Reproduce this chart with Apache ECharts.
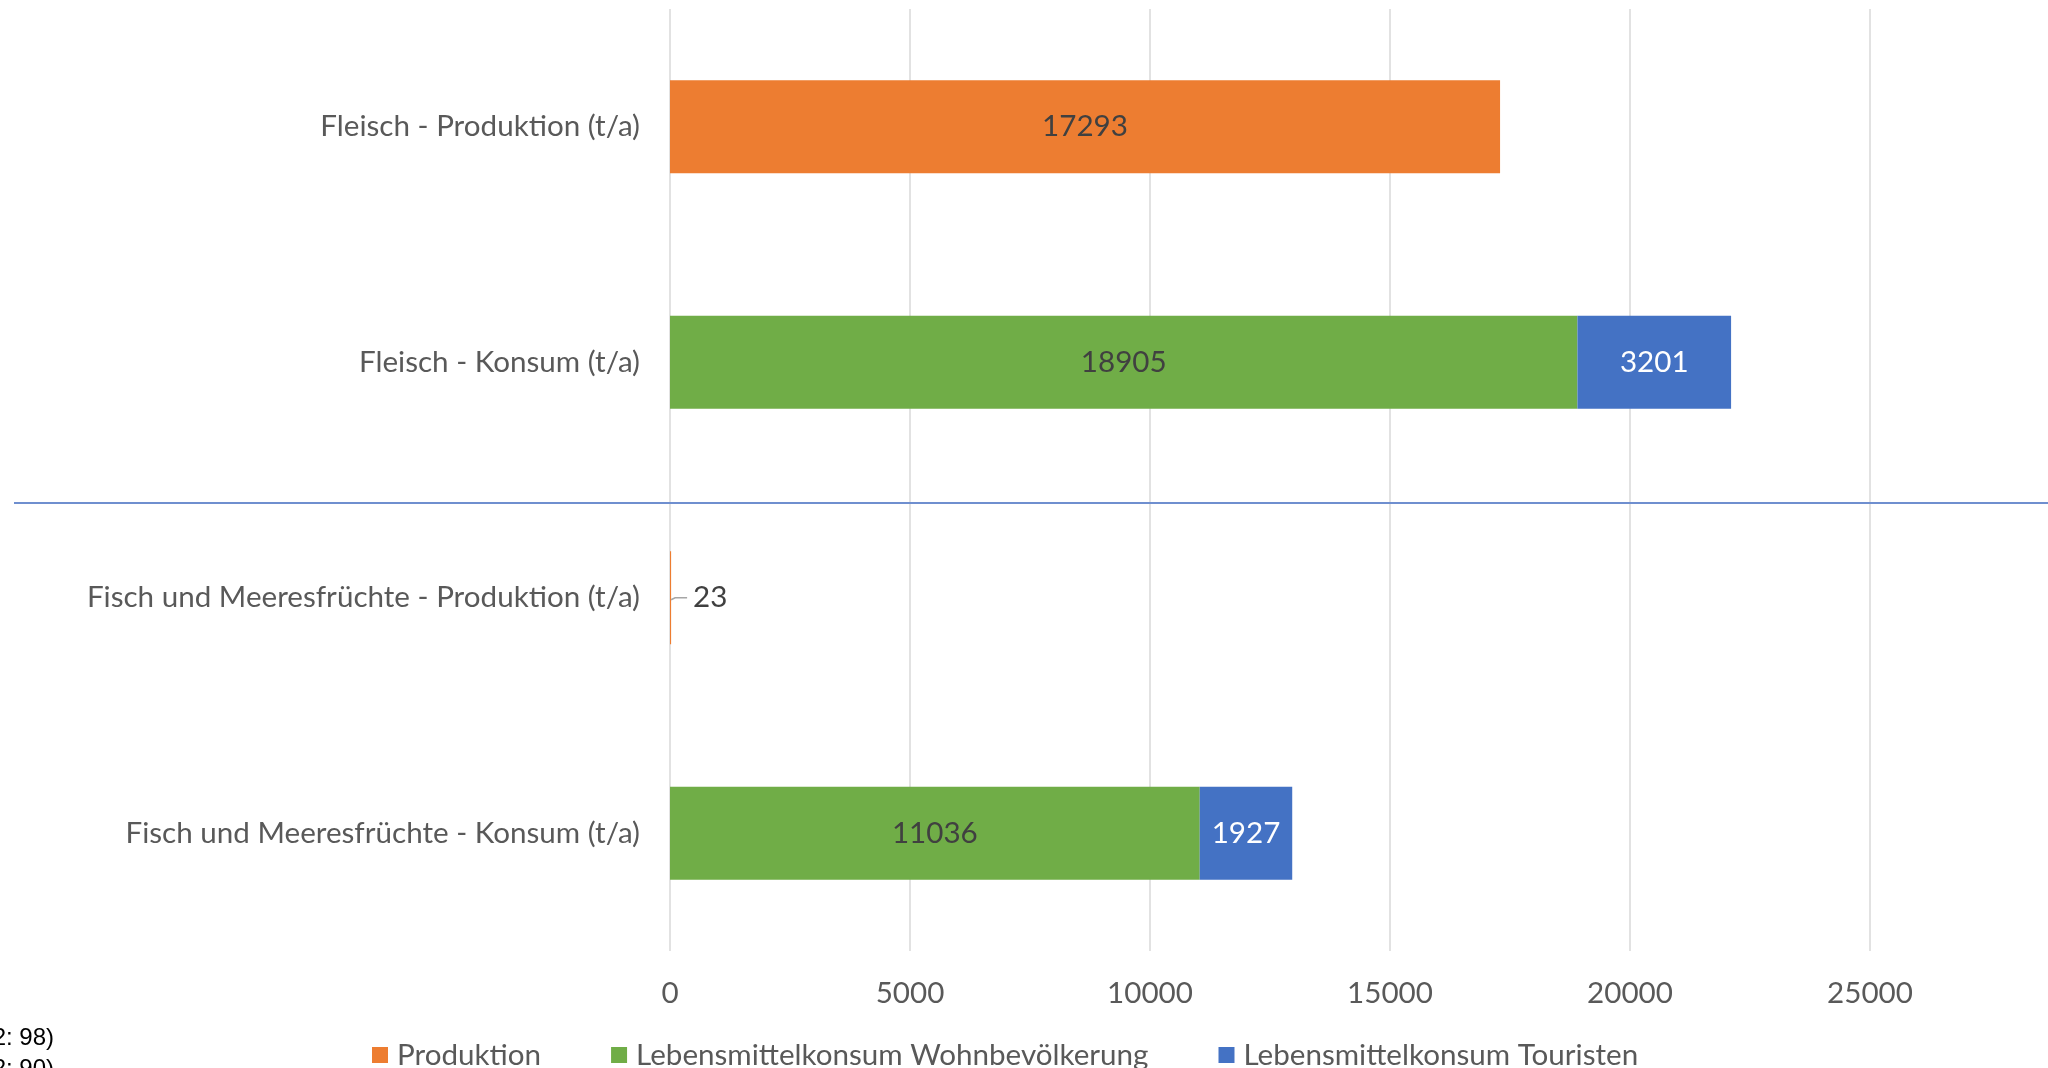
<!DOCTYPE html>
<html>
<head>
<meta charset="utf-8">
<script src="https://cdn.jsdelivr.net/npm/echarts@6/dist/echarts.min.js"></script>
<style>
html,body{margin:0;padding:0;background:#fff;}
#chart{width:2048px;height:1068px;}
</style>
</head>
<body>
<div id="chart"></div>
<script>
const categories = [
  'Fleisch - Produktion (t/a)',
  'Fleisch - Konsum (t/a)',
  'Fisch und Meeresfrüchte - Produktion (t/a)',
  'Fisch und Meeresfrüchte - Konsum (t/a)'
];
const seriesNames = ['Produktion', 'Lebensmittelkonsum Wohnbevölkerung', 'Lebensmittelkonsum Touristen'];
const produktion = [17293, null, 23, null];
const wohnbevoelkerung = [null, 18905, null, 11036];
const touristen = [null, 3201, null, 1927];
const xTicks = [0, 5000, 10000, 15000, 20000, 25000, 30000];

const FONT = 'Lato';
const FS = 29.6;
const chart = echarts.init(document.getElementById('chart'), null, {renderer: 'canvas'});

function labelCfg(color) {
  return {
    show: true,
    position: 'inside',
    color: color,
    fontFamily: FONT,
    fontSize: FS,
    formatter: p => (p.value == null ? '' : String(p.value))
  };
}

chart.setOption({
  animation: false,
  backgroundColor: '#fff',
  textStyle: {fontFamily: FONT},
  grid: {left: 670, top: 9, width: 1440, height: 942, containLabel: false, outerBoundsMode: 'none'},
  xAxis: {
    type: 'value',
    min: xTicks[0],
    max: xTicks[xTicks.length - 1],
    interval: 5000,
    axisLine: {show: false},
    axisTick: {show: false},
    splitLine: {show: true, lineStyle: {color: '#d9d9d9', width: 1.5}},
    axisLabel: {color: '#595959', fontFamily: FONT, fontSize: FS, margin: 27, formatter: v => String(v)}
  },
  yAxis: {
    type: 'category',
    inverse: true,
    data: categories,
    axisLine: {show: false},
    axisTick: {show: false},
    splitLine: {show: false},
    axisLabel: {color: '#595959', fontFamily: FONT, fontSize: FS, margin: 30}
  },
  legend: {
    left: 367,
    top: 1035,
    itemWidth: 16,
    itemHeight: 16,
    itemGap: 70,
    icon: 'rect',
    textStyle: {color: '#595959', fontFamily: FONT, fontSize: FS, padding: [0, 0, 0, 4]},
    data: seriesNames
  },
  series: [
    {
      name: seriesNames[0], type: 'bar', stack: 'total', barWidth: 93,
      itemStyle: {color: '#ED7D31'},
      data: produktion.map((v, i) => ({
        value: v,
        label: i === 2 ? {show: true, position: 'right', distance: 22, color: '#404040', fontFamily: FONT, fontSize: FS} : undefined
      })),
      label: labelCfg('#404040')
    },
    {
      name: seriesNames[1], type: 'bar', stack: 'total', barWidth: 93,
      itemStyle: {color: '#70AD47'},
      data: wohnbevoelkerung,
      label: labelCfg('#404040')
    },
    {
      name: seriesNames[2], type: 'bar', stack: 'total', barWidth: 93,
      itemStyle: {color: '#4472C4'},
      data: touristen,
      label: labelCfg('#ffffff')
    }
  ]
});

// leader line for the small value label, placed via the chart's own scales
const p = chart.convertToPixel({gridIndex: 0}, [produktion[2], 2]);
chart.setOption({
  graphic: [
    {type: 'line', shape: {x1: 14, y1: 503, x2: 2048, y2: 503}, style: {stroke: '#6f8fcf', lineWidth: 2}, z: 10},
    {type: 'polyline', shape: {points: [[p[0], p[1] + 2], [p[0] + 4, p[1]], [p[0] + 16, p[1]]]}, style: {stroke: '#a6a6a6', lineWidth: 1.5, fill: null}, z: 10},
    {type: 'text', right: 1994, top: 1026, style: {text: '2: 98)', font: '24px "Liberation Sans"', fill: '#000'}},
    {type: 'text', right: 1994, top: 1057, style: {text: '2: 90)', font: '24px "Liberation Sans"', fill: '#000'}}
  ]
});
</script>
</body>
</html>
